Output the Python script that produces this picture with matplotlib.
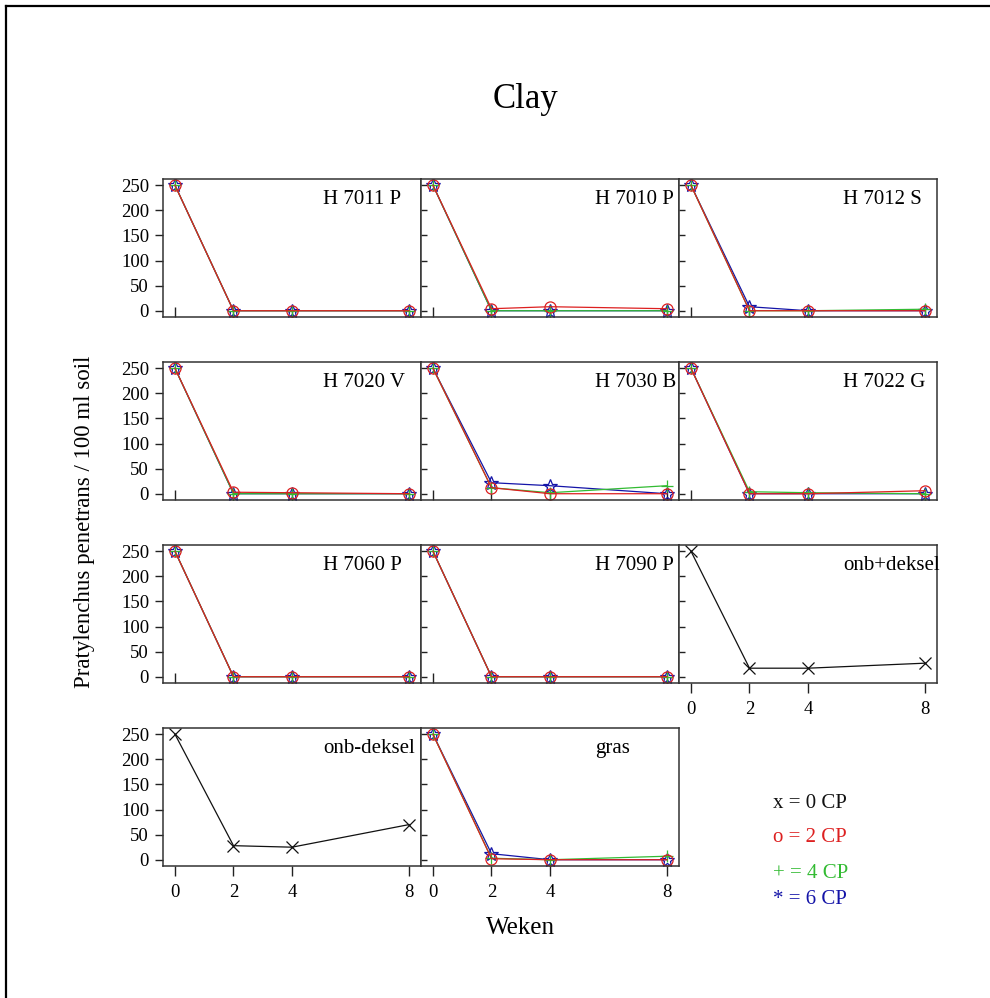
import numpy as np
import matplotlib
matplotlib.use("Agg")
from matplotlib import pyplot as plt
from matplotlib.lines import Line2D

plt.rcParams['font.family'] = ['Liberation Serif', 'DejaVu Serif']

# Data
weeks = [0, 2, 4, 8]
panel_names = ["H 7011 P", "H 7010 P", "H 7012 S",
               "H 7020 V", "H 7030 B", "H 7022 G",
               "H 7060 P", "H 7090 P", "onb+deksel",
               "onb-deksel", "gras"]
# None = series not present in that panel
cp0 = [None, None, None, None, None, None, None, None,
       [250, 17, 17, 27],
       [250, 28, 25, 70],
       None]
cp2 = [[250, 0, 0, 0], [250, 4, 8, 4], [250, 0, 0, 0],
       [250, 3, 2, 0], [250, 12, 0, 0], [250, 0, 0, 6],
       [250, 0, 0, 0], [250, 0, 0, 0], None, None,
       [250, 2, 0, 0]]
cp4 = [[250, 0, 0, 0], [250, 0, 0, 0], [250, 0, 0, 3],
       [250, 0, 0, 0], [250, 12, 2, 16], [250, 4, 2, 0],
       [250, 0, 0, 0], [250, 0, 0, 0], None, None,
       [250, 3, 0, 7]]
cp6 = [[250, 0, 0, 0], [250, 0, 0, 0], [250, 8, 0, 0],
       [250, 0, 0, 0], [250, 22, 16, 0], [250, 0, 0, 0],
       [250, 0, 0, 0], [250, 0, 0, 0], None, None,
       [250, 12, 0, 0]]
yticks = [0, 50, 100, 150, 200, 250]
legend_labels = ["x = 0 CP", "o = 2 CP", "+ = 4 CP", "* = 6 CP"]

black, red, green, blue = "#111111", "#dd2020", "#33bb33", "#1414a8"

W, H = 990, 998
fig = plt.figure(figsize=(W / 100, H / 100), dpi=100)

# outer frame (left and top only, as in the scan)
fig.add_artist(Line2D([6 / W, 6 / W], [0, 1 - 6 / H], color="black", lw=1.6))
fig.add_artist(Line2D([6 / W, 1], [1 - 6 / H, 1 - 6 / H], color="black", lw=1.6))

pw, ph = 258, 138
lefts = [163, 421, 679]
tops = [179, 362, 545, 728]
label_x = [0.62, 0.675, 0.635]

for i, name in enumerate(panel_names):
    r, c = divmod(i, 3)
    ax = fig.add_axes([lefts[c] / W, 1 - (tops[r] + ph) / H, pw / W, ph / H])
    series = [(cp6[i], blue, dict(marker="*", ms=10, mfc="none", mew=0.9)),
              (cp4[i], green, dict(marker="+", ms=9, mew=0.9)),
              (cp2[i], red, dict(marker="o", ms=8, mfc="none", mew=0.9)),
              (cp0[i], black, dict(marker="x", ms=8, mew=0.9))]
    for vals, col, mk in series:
        if vals is None:
            continue
        ax.plot(weeks, vals, color=col, lw=0.9, **mk)
    ax.set_xlim(-0.41, 8.41)
    ax.set_ylim(-12.5, 262.5)
    ax.set_xticks(weeks)
    ax.set_yticks(yticks)
    for s in ax.spines.values():
        s.set_color("#333333")
        s.set_linewidth(1.1)
    labelled_x = (r == 3) or (name == "onb+deksel")
    if labelled_x:
        ax.tick_params(axis="x", direction="out", length=7, width=1,
                       labelsize=13.5, pad=6, color="#222222")
    else:
        ax.tick_params(axis="x", direction="in", length=7, width=1,
                       labelbottom=False, color="#222222")
    if c == 0:
        ax.tick_params(axis="y", direction="out", length=6, width=1,
                       labelsize=13.5, pad=4, color="#222222")
    else:
        ax.tick_params(axis="y", direction="in", length=4, width=1,
                       labelleft=False, color="#222222")
    ax.text(label_x[c], 0.855, name, transform=ax.transAxes,
            ha="left", va="center", fontsize=15)

fig.text(525 / W, 1 - 100 / H, "Clay", ha="center", va="center", fontsize=25)
fig.text(520 / W, 1 - 928 / H, "Weken", ha="center", va="center", fontsize=18)
fig.text(85 / W, 1 - 522 / H, "Pratylenchus penetrans / 100 ml soil",
         ha="center", va="center", rotation=90, fontsize=16.5)

leg_y = [803, 838, 874, 899]
for lab, col, y in zip(legend_labels, [black, red, green, blue], leg_y):
    fig.text(773 / W, 1 - y / H, lab, color=col, ha="left", va="center",
             fontsize=15)

plt.savefig("out.png", dpi=100)
